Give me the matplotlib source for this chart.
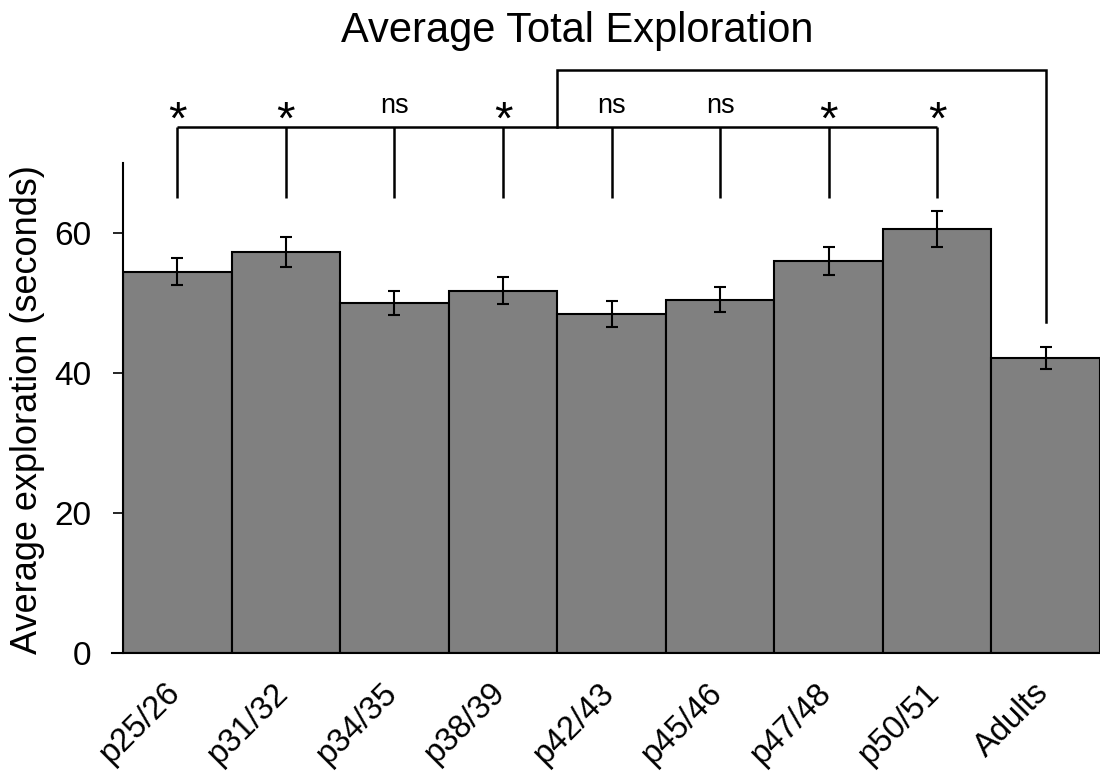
import matplotlib
matplotlib.use("Agg")
import matplotlib.pyplot as plt
import matplotlib.transforms as mtransforms
import numpy as np

categories = ["p25/26", "p31/32", "p34/35", "p38/39", "p42/43", "p45/46", "p47/48", "p50/51", "Adults"]
means = [54.5, 57.3, 50.0, 51.8, 48.5, 50.5, 56.0, 60.6, 42.2]
errors = [1.95, 2.15, 1.7, 1.95, 1.85, 1.8, 2.0, 2.6, 1.55]
sig_labels = ["*", "*", "ns", "*", "ns", "ns", "*", "*"]

plt.rcParams['font.family'] = ['Liberation Sans', 'DejaVu Sans']

W, H = 1100, 778
fig = plt.figure(figsize=(W / 100, H / 100), dpi=100)
ax = fig.add_axes([123 / W, 1 - 653.3 / H, 977 / W, 490 / H])

x = np.arange(len(categories))
ax.bar(x, means, width=1.0, color='#808080', edgecolor='black', linewidth=1.5, zorder=2)
ax.errorbar(x, means, yerr=errors, fmt='none', ecolor='black', elinewidth=1.5,
            capsize=4.5, capthick=1.5, zorder=3)

ax.set_xlim(-0.5, len(categories) - 0.5)
ax.set_ylim(0, 70)
ax.set_yticks([0, 20, 40, 60])
ax.tick_params(axis='y', labelsize=24, length=7.5, width=1.2, pad=15.5, direction='out')
ax.tick_params(axis='x', length=0, pad=17)
ax.set_xticks(x)
ax.set_xticklabels(categories, rotation=45, ha='right', va='top', fontsize=23.5)
offset = mtransforms.ScaledTranslation(9 / 100, 0, fig.dpi_scale_trans)
for lbl in ax.get_xticklabels():
    lbl.set_transform(lbl.get_transform() + offset)
ax.spines['top'].set_visible(False)
ax.spines['right'].set_visible(False)
ax.spines['left'].set_linewidth(1.5)
ax.spines['bottom'].set_linewidth(1.5)
ax.spines['bottom'].set_bounds(-0.6, len(categories) - 0.5)

# significance brackets
bracket_y = 75.2
tick_bottom = 65.0
lw = 1.8
n_sig = len(sig_labels)
ax.plot([0, n_sig - 1], [bracket_y, bracket_y], color='black', lw=lw, clip_on=False, solid_capstyle='butt')
for i, lab in enumerate(sig_labels):
    ax.plot([i, i], [tick_bottom, bracket_y], color='black', lw=lw, clip_on=False, solid_capstyle='butt')
    if lab == '*':
        ax.text(i, 74.2, lab, ha='center', va='baseline', fontsize=34, clip_on=False)
    else:
        ax.text(i, 77.2, lab, ha='center', va='baseline', fontsize=19.5, clip_on=False)

top_y = 83.3
left_x = 3.5
adult_x = len(categories) - 1
ax.plot([left_x, left_x, adult_x, adult_x], [bracket_y, top_y, top_y, 47.3],
        color='black', lw=lw, clip_on=False, solid_joinstyle='miter')

fig.text(577.5 / W, 1 - 31 / H, "Average Total Exploration", ha='center', va='center', fontsize=30)
fig.text(28 / W, 1 - 410 / H, "Average exploration (seconds)", ha='center', va='center',
         rotation=90, fontsize=26)

fig.savefig("out.png", dpi=100)
